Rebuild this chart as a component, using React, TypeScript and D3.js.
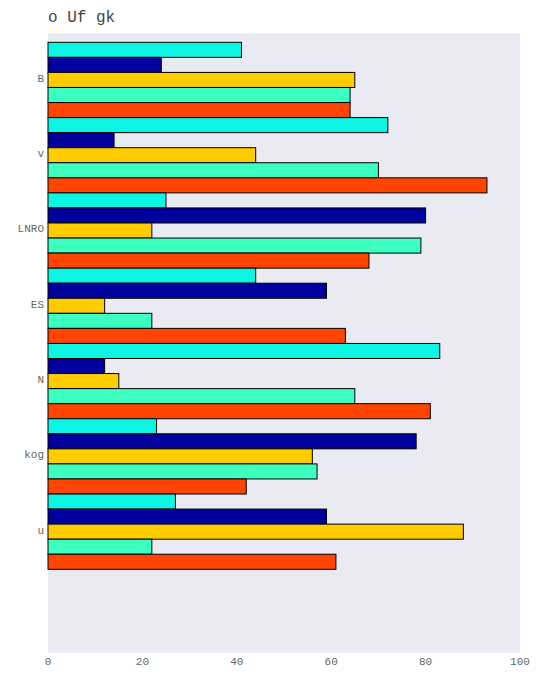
import React, { useEffect, useRef } from 'react';
import * as d3 from 'd3';

// categories, listed top to bottom
const categories = ['B', 'v', 'LNRO', 'ES', 'N', 'kog', 'u'];

// series values (same order as categories)
const seriesA = [64, 93, 68, 63, 81, 42, 61]; // orangered, bottom bar of group
const seriesB = [64, 70, 79, 22, 65, 57, 22]; // aquamarine
const seriesC = [65, 44, 22, 12, 15, 56, 88]; // gold
const seriesD = [24, 14, 80, 59, 12, 78, 59]; // navy
const seriesE = [41, 72, 25, 44, 83, 23, 27]; // cyan, top bar of group

const xTicks = [0, 20, 40, 60, 80, 100];
const title = 'o Uf gk';

const colors = ['#ff4500', '#3cffc0', '#ffcc00', '#00009c', '#0cf5e3'];

const App = () => {
    const ref = useRef<SVGSVGElement | null>(null);

    useEffect(() => {
        if (!ref.current) return;
        const svg = d3.select(ref.current);
        svg.selectAll('*').remove();

        const left = 48, right = 520, top = 33.3, bottom = 652.7;
        const font = '"Courier New", Courier, "Liberation Mono", monospace';

        // plot background
        svg.append('rect')
            .attr('x', left).attr('y', top)
            .attr('width', right - left).attr('height', bottom - top)
            .attr('fill', '#eaeaf2');

        const x = d3.scaleLinear().domain([0, 100]).range([left, right]);

        const yGroup = d3.scaleBand<string>()
            .domain(categories)
            .range([42.3, 569.3])
            .paddingInner(0).paddingOuter(0);

        // top to bottom within a group: E, D, C, B, A
        const series = [seriesE, seriesD, seriesC, seriesB, seriesA];
        const seriesColors = [colors[4], colors[3], colors[2], colors[1], colors[0]];
        const ySub = d3.scaleBand<number>()
            .domain(d3.range(series.length))
            .range([0, yGroup.bandwidth()]);

        const rows = categories.flatMap((c, ci) =>
            series.map((s, si) => ({ cat: c, si, value: s[ci] })));

        svg.append('g')
            .selectAll('rect')
            .data(rows)
            .enter()
            .append('rect')
            .attr('x', x(0))
            .attr('y', d => (yGroup(d.cat) as number) + (ySub(d.si) as number))
            .attr('width', d => x(d.value) - x(0))
            .attr('height', ySub.bandwidth())
            .attr('fill', d => seriesColors[d.si])
            .attr('stroke', '#000')
            .attr('stroke-width', 1);

        // y labels
        svg.append('g')
            .selectAll('text')
            .data(categories)
            .enter()
            .append('text')
            .attr('x', left - 4)
            .attr('y', d => (yGroup(d) as number) + yGroup.bandwidth() / 2 - 2)
            .attr('dy', '0.35em')
            .attr('text-anchor', 'end')
            .attr('font-family', font)
            .attr('font-size', 11)
            .attr('fill', '#666')
            .text(d => d);

        // x ticks
        svg.append('g')
            .selectAll('text')
            .data(xTicks)
            .enter()
            .append('text')
            .attr('x', d => x(d))
            .attr('y', 665)
            .attr('text-anchor', 'middle')
            .attr('font-family', font)
            .attr('font-size', 11)
            .attr('fill', '#666')
            .text(d => d);

        // title
        svg.append('text')
            .attr('x', left)
            .attr('y', 22)
            .attr('font-family', font)
            .attr('font-size', 16)
            .attr('fill', '#444')
            .text(title);
    }, []);

    return (
        <svg ref={ref} width={544} height={680}
            style={{ position: 'absolute', left: 0, top: 0, background: '#fff' }} />
    );
};

export default App;
